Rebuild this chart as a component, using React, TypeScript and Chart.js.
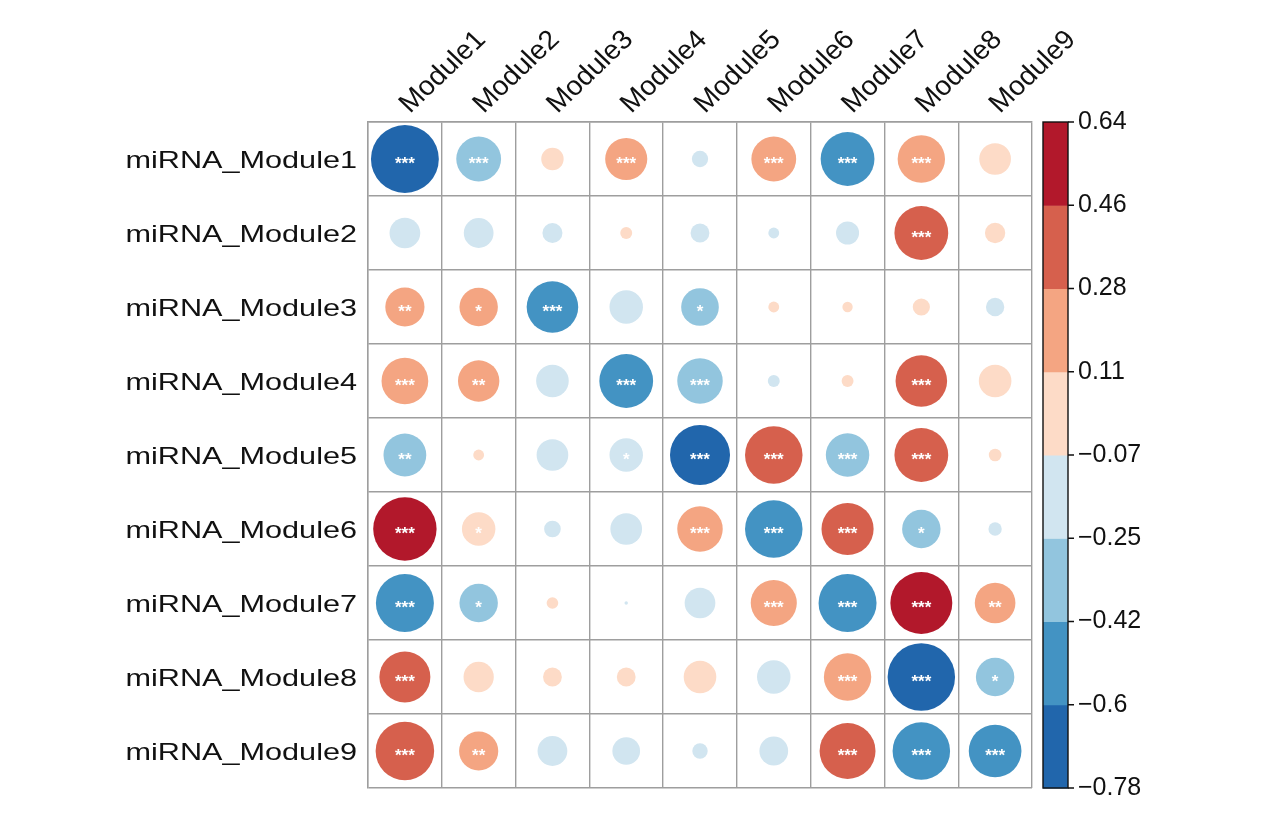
import React, { useEffect, useRef } from 'react';
import { Chart, registerables } from 'chart.js';

Chart.register(...registerables);

const columnLabels = ['Module1', 'Module2', 'Module3', 'Module4', 'Module5', 'Module6', 'Module7', 'Module8', 'Module9'];
const rowLabels = ['miRNA_Module1', 'miRNA_Module2', 'miRNA_Module3', 'miRNA_Module4', 'miRNA_Module5', 'miRNA_Module6', 'miRNA_Module7', 'miRNA_Module8', 'miRNA_Module9'];

const corrRow1 = [-0.78, -0.34, 0.085, 0.30, -0.045, 0.34, -0.49, 0.38, 0.17];
const corrRow2 = [-0.16, -0.15, -0.068, 0.024, -0.06, -0.02, -0.09, 0.49, 0.07];
const corrRow3 = [0.26, 0.25, -0.45, -0.19, -0.24, 0.02, 0.018, 0.05, -0.057];
const corrRow4 = [0.37, 0.29, -0.18, -0.49, -0.35, -0.024, 0.024, 0.45, 0.18];
const corrRow5 = [-0.31, 0.02, -0.17, -0.19, -0.61, 0.56, -0.32, 0.49, 0.027];
const corrRow6 = [0.68, 0.19, -0.047, -0.17, 0.35, -0.56, 0.46, -0.25, -0.03];
const corrRow7 = [-0.57, -0.25, 0.023, -0.002, -0.16, 0.36, -0.57, 0.65, 0.28];
const corrRow8 = [0.44, 0.155, 0.06, 0.06, 0.18, -0.19, 0.38, -0.77, -0.25];
const corrRow9 = [0.58, 0.26, -0.15, -0.13, -0.04, -0.14, 0.53, -0.56, -0.47];
const corrRows = [corrRow1, corrRow2, corrRow3, corrRow4, corrRow5, corrRow6, corrRow7, corrRow8, corrRow9];

const starRow1 = ['***', '***', '', '***', '', '***', '***', '***', ''];
const starRow2 = ['', '', '', '', '', '', '', '***', ''];
const starRow3 = ['**', '*', '***', '', '*', '', '', '', ''];
const starRow4 = ['***', '**', '', '***', '***', '', '', '***', ''];
const starRow5 = ['**', '', '', '*', '***', '***', '***', '***', ''];
const starRow6 = ['***', '*', '', '', '***', '***', '***', '*', ''];
const starRow7 = ['***', '*', '', '', '', '***', '***', '***', '**'];
const starRow8 = ['***', '', '', '', '', '', '***', '***', '*'];
const starRow9 = ['***', '**', '', '', '', '', '***', '***', '***'];
const starRows = [starRow1, starRow2, starRow3, starRow4, starRow5, starRow6, starRow7, starRow8, starRow9];

const palette = ['#2166AC', '#4393C3', '#92C5DE', '#D1E5F0', '#FDDBC7', '#F4A582', '#D6604D', '#B2182B'];
const colorLimit = 0.78;
const colorbarMin = -0.78;
const colorbarMax = 0.64;
const colorbarTickValues = [0.64, 0.4625, 0.285, 0.1075, -0.07, -0.2475, -0.425, -0.6025, -0.78];
const colorbarTickLabels = ['0.64', '0.46', '0.28', '0.11', '\u22120.07', '\u22120.25', '\u22120.42', '\u22120.6', '\u22120.78'];

const FONT = '"Liberation Sans", Arial, Helvetica, sans-serif';
const GRID = '#9e9e9e';

function colorFor(v: number): string {
  let idx = Math.floor(((v + colorLimit) / (2 * colorLimit)) * palette.length);
  if (idx < 0) idx = 0;
  if (idx > palette.length - 1) idx = palette.length - 1;
  return palette[idx];
}

export default function App() {
  const canvasRef = useRef<HTMLCanvasElement | null>(null);

  useEffect(() => {
    const canvas = canvasRef.current;
    if (!canvas) return;

    const points: any[] = [];
    corrRows.forEach((row, r) => {
      row.forEach((v, c) => {
        points.push({ x: columnLabels[c], y: rowLabels[r], v, s: starRows[r][c] });
      });
    });

    const labelsPlugin = {
      id: 'customLabels',
      afterDraw(chart: any) {
        const ctx = chart.ctx;
        const xs = chart.scales.x;
        const ys = chart.scales.y;
        ctx.save();
        ctx.fillStyle = '#111111';
        ctx.font = `24.5px ${FONT}`;
        ctx.textAlign = 'right';
        ctx.textBaseline = 'alphabetic';
        rowLabels.forEach((lab, i) => {
          const y = ys.getPixelForTick(i);
          ctx.save();
          ctx.translate(chart.chartArea.left - 11, y + 8.5);
          ctx.scale(1.25, 1);
          ctx.fillText(lab, 0, 0);
          ctx.restore();
        });
        ctx.font = `27px ${FONT}`;
        ctx.textAlign = 'left';
        columnLabels.forEach((lab, i) => {
          const x = xs.getPixelForTick(i);
          ctx.save();
          ctx.translate(x + 5, chart.chartArea.top - 8);
          ctx.scale(1.05, 1);
          ctx.rotate(-Math.PI / 4);
          ctx.fillText(lab, 0, 0);
          ctx.restore();
        });
        const cb = chart.scales.cb;
        const x0 = chart.chartArea.right + 11;
        const w = 25;
        const sorted = [...colorbarTickValues].sort((a, b) => a - b);
        for (let i = 0; i < palette.length; i++) {
          const yb = cb.getPixelForValue(sorted[i]);
          const yt = cb.getPixelForValue(sorted[i + 1]);
          ctx.fillStyle = palette[i];
          ctx.fillRect(x0, yt, w, yb - yt + 0.5);
        }
        ctx.strokeStyle = '#111111';
        ctx.lineWidth = 1.4;
        const top = cb.getPixelForValue(colorbarMax);
        const bot = cb.getPixelForValue(colorbarMin);
        ctx.strokeRect(x0, top, w, bot - top);
        ctx.beginPath();
        colorbarTickValues.forEach((v) => {
          const y = cb.getPixelForValue(v);
          ctx.moveTo(x0 + w, y);
          ctx.lineTo(x0 + w + 6, y);
        });
        ctx.stroke();
        ctx.restore();
      },
    };

    const starsPlugin = {
      id: 'stars',
      afterDatasetsDraw(chart: any) {
        const ctx = chart.ctx;
        const meta = chart.getDatasetMeta(0);
        ctx.save();
        ctx.fillStyle = '#ffffff';
        ctx.font = `bold 17px ${FONT}`;
        ctx.textAlign = 'center';
        ctx.textBaseline = 'alphabetic';
        meta.data.forEach((el: any, i: number) => {
          const s = points[i].s;
          if (s) ctx.fillText(s, el.x, el.y + 9.5);
        });
        ctx.restore();
      },
    };

    const radiusFor = (c: any) => {
      if (!c.raw) return 0;
      const xs = c.chart.scales.x;
      const cell = Math.abs(xs.getPixelForValue(1) - xs.getPixelForValue(0));
      return 0.46 * cell * Math.sqrt(Math.abs(c.raw.v) / colorLimit);
    };

    const chart = new Chart(canvas, {
      type: 'scatter',
      data: {
        datasets: [
          {
            xAxisID: 'x',
            yAxisID: 'y',
            data: points,
            showLine: false,
            pointBackgroundColor: (c: any) => (c.raw ? colorFor(c.raw.v) : '#ccc'),
            pointBorderWidth: 0,
            pointBorderColor: 'rgba(0,0,0,0)',
            pointRadius: radiusFor,
            pointHoverRadius: radiusFor,
          } as any,
        ],
      },
      options: {
        animation: false,
        responsive: false,
        events: [],
        layout: { padding: { left: 0, right: 0, top: 0, bottom: 29 } },
        plugins: { legend: { display: false }, tooltip: { enabled: false } },
        scales: {
          x: {
            type: 'category',
            labels: columnLabels,
            position: 'top',
            offset: true,
            grid: { offset: true, color: GRID, lineWidth: 1.4, drawTicks: false },
            border: { display: true, color: GRID, width: 1.4 },
            ticks: { display: false },
            afterFit: (s: any) => {
              s.height = 122;
            },
          },
          y: {
            type: 'category',
            labels: rowLabels,
            position: 'left',
            offset: true,
            grid: { offset: true, color: GRID, lineWidth: 1.4, drawTicks: false },
            border: { display: true, color: GRID, width: 1.4 },
            ticks: { display: false },
            afterFit: (s: any) => {
              s.width = 368;
            },
          },
          cb: {
            type: 'linear',
            axis: 'y',
            position: 'right',
            min: colorbarMin,
            max: colorbarMax,
            grid: { display: false, drawTicks: false, drawOnChartArea: false },
            border: { display: false },
            ticks: {
              autoSkip: false,
              padding: 46,
              color: '#111111',
              font: { size: 25, family: FONT },
              callback: (_v: any, i: number) => colorbarTickLabels[i],
            },
            afterBuildTicks: (s: any) => {
              s.ticks = colorbarTickValues.map((v) => ({ value: v }));
            },
            afterFit: (s: any) => {
              s.width = 248;
              s.paddingTop = 0;
              s.paddingBottom = 0;
            },
          },
        } as any,
      },
      plugins: [starsPlugin, labelsPlugin],
    });

    return () => {
      chart.destroy();
    };
  }, []);

  return (
    <div style={{ position: 'fixed', left: 0, top: 0, width: 1280, height: 817, background: '#ffffff' }}>
      <canvas ref={canvasRef} width={1280} height={817} style={{ width: 1280, height: 817, display: 'block' }} />
    </div>
  );
}
